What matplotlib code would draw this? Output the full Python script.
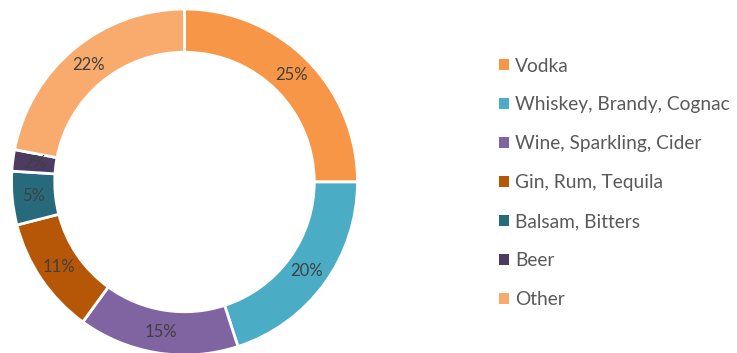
import matplotlib
matplotlib.use("Agg")
import matplotlib.pyplot as plt
from matplotlib.patches import Patch

categories = ["Vodka", "Whiskey, Brandy, Cognac", "Wine, Sparkling, Cider",
              "Gin, Rum, Tequila", "Balsam, Bitters", "Beer", "Other"]
values = [25, 20, 15, 11, 5, 2, 22]
colors = ["#F79646", "#4BACC6", "#8064A2", "#B65708", "#276A7C", "#4D3B62", "#F9AB6E"]

plt.rcParams['font.family'] = ['Lato', 'DejaVu Sans']

W, H = 737, 353
fig = plt.figure(figsize=(W/100, H/100), dpi=100)
cx, cy, R = 184.5, 353-182, 173
ax = fig.add_axes([(cx-R)/W, (cy-R)/H, 2*R/W, 2*R/H])
wedges, texts = ax.pie(values, colors=colors, startangle=90, counterclock=False,
                       radius=1.0, wedgeprops=dict(width=0.25, edgecolor="white", linewidth=2),
                       labels=[f"{v}%" for v in values], labeldistance=0.875,
                       textprops=dict(color="#404040", fontsize=12, ha="center", va="center"))
for t in texts:
    t.set_ha("center"); t.set_va("center")
ax.set_aspect("equal")
ax.set_xlim(-1, 1); ax.set_ylim(-1, 1)
ax.axis("off")

handles = [Patch(facecolor=c, edgecolor="none") for c in colors]
leg = fig.legend(handles, categories, loc="upper left", bbox_to_anchor=(499/W, 1-57.5/H),
                 frameon=False, fontsize=13.8, labelcolor="#595959",
                 handlelength=0.5, handleheight=0.5, handletextpad=0.35,
                 labelspacing=1.145, borderaxespad=0, borderpad=0)
fig.savefig("out.png", dpi=100)
